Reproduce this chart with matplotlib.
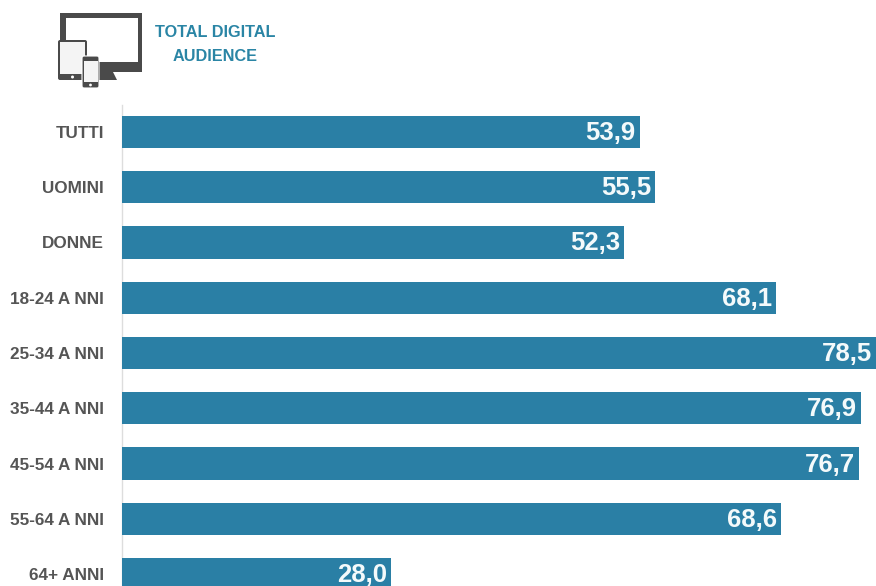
import matplotlib
matplotlib.use("Agg")
import matplotlib.pyplot as plt
from matplotlib.patches import Rectangle, FancyBboxPatch, Circle, Polygon

categories = ["TUTTI", "UOMINI", "DONNE", "18-24 A NNI", "25-34 A NNI",
              "35-44 A NNI", "45-54 A NNI", "55-64 A NNI", "64+ ANNI"]
values = [53.9, 55.5, 52.3, 68.1, 78.5, 76.9, 76.7, 68.6, 28.0]
title_lines = "TOTAL DIGITAL\nAUDIENCE"

BAR_COLOR = "#2a7fa5"
LABEL_COLOR = "#555555"
ICON_DARK = "#4a4a4a"
ICON_LIGHT = "#f4f4f4"

W, H = 876, 586
plt.rcParams["font.family"] = ["Liberation Sans", "DejaVu Sans"]

fig = plt.figure(figsize=(W / 100, H / 100), dpi=100, facecolor="white")

# bars
ax = fig.add_axes([122 / W, 0, (W - 122) / W, (H - 105) / H])
positions = list(range(len(categories)))
ax.barh(positions, values, height=0.58, color=BAR_COLOR, zorder=3)
ax.set_xlim(0, 78.5)
ax.set_ylim((586 - 132) / 55.25, -27 / 55.25)
ax.set_yticks(positions)
ax.set_yticklabels(categories, fontsize=12.3, fontweight="bold", color=LABEL_COLOR)
ax.tick_params(axis="y", length=0, pad=13)
ax.set_xticks([])
for side in ["top", "right", "bottom"]:
    ax.spines[side].set_visible(False)
ax.spines["left"].set_color("#dddddd")
ax.spines["left"].set_linewidth(1)
ax.spines["left"].set_zorder(1)

for pos, val in zip(positions, values):
    ax.annotate(f"{val:.1f}".replace(".", ","), xy=(val, pos), xytext=(-4, -1),
                textcoords="offset pixels", ha="right", va="center", zorder=4,
                fontsize=18.5, fontweight="bold", color="#f4fafb")

# header overlay in pixel coordinates
top = fig.add_axes([0, 0, 1, 1], facecolor="none")
top.set_xlim(0, W)
top.set_ylim(H, 0)
top.axis("off")

top.text(215, 44.5, title_lines, ha="center", va="center", fontsize=11.7,
         fontweight="bold", color="#2a85a5", linespacing=1.75)

# monitor
top.add_patch(Rectangle((60, 13), 82, 59, facecolor=ICON_DARK, edgecolor="none"))
top.add_patch(Rectangle((66, 18), 72, 44, facecolor="white", edgecolor="none"))
top.add_patch(Polygon([(99, 72), (113, 72), (117, 80), (99, 80)],
                      facecolor=ICON_DARK, edgecolor="none"))
# tablet
top.add_patch(FancyBboxPatch((58, 40), 29, 40, boxstyle="round,pad=0,rounding_size=2",
                             facecolor=ICON_DARK, edgecolor="none"))
top.add_patch(Rectangle((60, 42), 25, 32, facecolor=ICON_LIGHT, edgecolor="none"))
top.add_patch(Circle((72.5, 77), 1.5, facecolor="white", edgecolor="none"))
# phone
top.add_patch(FancyBboxPatch((82, 56), 17, 32, boxstyle="round,pad=0,rounding_size=2",
                             facecolor=ICON_DARK, edgecolor="white", linewidth=0.8))
top.add_patch(Rectangle((83.5, 61), 14, 21, facecolor=ICON_LIGHT, edgecolor="none"))
top.add_patch(Circle((90.5, 85), 1.4, facecolor="white", edgecolor="none"))

fig.savefig("out.png", dpi=100, facecolor="white")
